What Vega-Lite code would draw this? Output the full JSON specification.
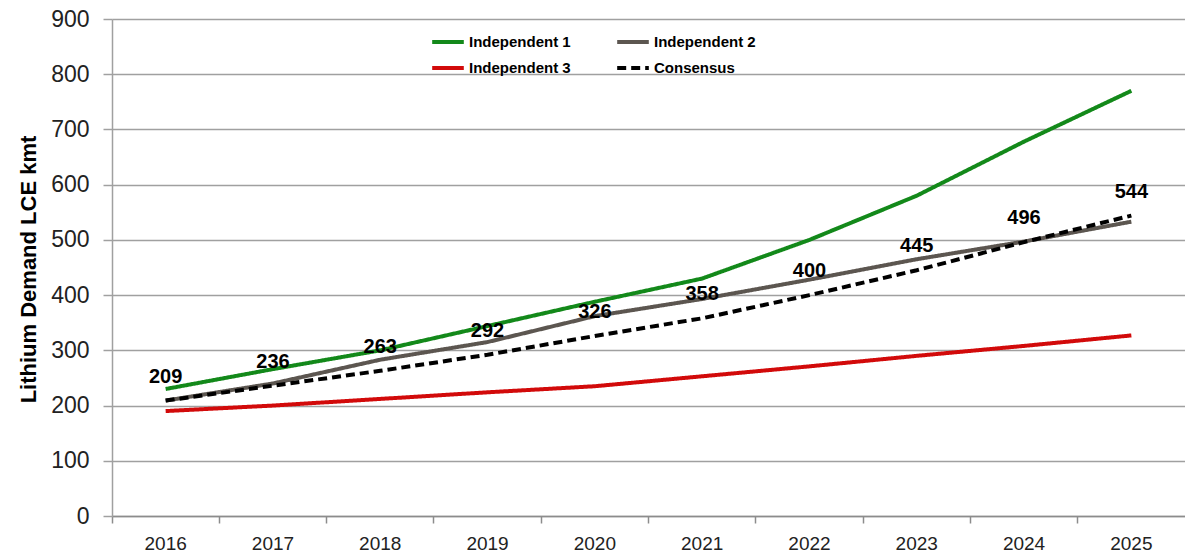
{
  "$schema": "https://vega.github.io/schema/vega-lite/v6.json",
  "width": 1073,
  "height": 497,
  "autosize": {"type": "none"},
  "padding": {"left": 112, "top": 19, "right": 0, "bottom": 40},
  "background": "white",
  "config": {"font": "Liberation Sans, Arial, sans-serif", "view": {"stroke": null}},
  "data": {
    "values": [
      {"year": "2016", "series": "Independent 1", "value": 230},
      {"year": "2017", "series": "Independent 1", "value": 266},
      {"year": "2018", "series": "Independent 1", "value": 300},
      {"year": "2019", "series": "Independent 1", "value": 344},
      {"year": "2020", "series": "Independent 1", "value": 388},
      {"year": "2021", "series": "Independent 1", "value": 430},
      {"year": "2022", "series": "Independent 1", "value": 500},
      {"year": "2023", "series": "Independent 1", "value": 580},
      {"year": "2024", "series": "Independent 1", "value": 678},
      {"year": "2025", "series": "Independent 1", "value": 770},
      {"year": "2016", "series": "Independent 2", "value": 209},
      {"year": "2017", "series": "Independent 2", "value": 240},
      {"year": "2018", "series": "Independent 2", "value": 283},
      {"year": "2019", "series": "Independent 2", "value": 315},
      {"year": "2020", "series": "Independent 2", "value": 362},
      {"year": "2021", "series": "Independent 2", "value": 393},
      {"year": "2022", "series": "Independent 2", "value": 428},
      {"year": "2023", "series": "Independent 2", "value": 465},
      {"year": "2024", "series": "Independent 2", "value": 497},
      {"year": "2025", "series": "Independent 2", "value": 533},
      {"year": "2016", "series": "Independent 3", "value": 190},
      {"year": "2017", "series": "Independent 3", "value": 200},
      {"year": "2018", "series": "Independent 3", "value": 212},
      {"year": "2019", "series": "Independent 3", "value": 224},
      {"year": "2020", "series": "Independent 3", "value": 235},
      {"year": "2021", "series": "Independent 3", "value": 253},
      {"year": "2022", "series": "Independent 3", "value": 271},
      {"year": "2023", "series": "Independent 3", "value": 290},
      {"year": "2024", "series": "Independent 3", "value": 308},
      {"year": "2025", "series": "Independent 3", "value": 327},
      {"year": "2016", "series": "Consensus", "value": 209},
      {"year": "2017", "series": "Consensus", "value": 236},
      {"year": "2018", "series": "Consensus", "value": 263},
      {"year": "2019", "series": "Consensus", "value": 292},
      {"year": "2020", "series": "Consensus", "value": 326},
      {"year": "2021", "series": "Consensus", "value": 358},
      {"year": "2022", "series": "Consensus", "value": 400},
      {"year": "2023", "series": "Consensus", "value": 445},
      {"year": "2024", "series": "Consensus", "value": 496},
      {"year": "2025", "series": "Consensus", "value": 544}
    ]
  },
  "encoding": {
    "x": {
      "field": "year",
      "type": "ordinal",
      "scale": {"type": "band", "paddingInner": 0, "paddingOuter": 0},
      "bandPosition": 0.5,
      "axis": {
        "title": null,
        "bandPosition": 0,
        "labelAngle": 0,
        "labelOverlap": false,
        "tickSize": 7,
        "tickColor": "#8c8c8c",
        "tickWidth": 1.5,
        "domainColor": "#8c8c8c",
        "domainWidth": 1.5,
        "labelFontSize": 19,
        "labelColor": "#222222",
        "labelPadding": 11,
        "grid": false
      }
    },
    "y": {
      "field": "value",
      "type": "quantitative",
      "scale": {"domain": [0, 900], "nice": false},
      "axis": {
        "values": [0, 100, 200, 300, 400, 500, 600, 700, 800, 900],
        "title": "Lithium Demand LCE kmt",
        "titleFontSize": 22,
        "titleFontWeight": "bold",
        "titleColor": "#000000",
        "titleX": -84,
        "titleY": 250,
        "titleAngle": -90,
        "titleAlign": "center",
        "titleBaseline": "middle",
        "gridColor": "#a0a0a0",
        "gridWidth": 1.5,
        "tickColor": "#a0a0a0",
        "tickWidth": 1.5,
        "tickSize": 9,
        "domainColor": "#a0a0a0",
        "domainWidth": 1.5,
        "labelFontSize": 23,
        "labelColor": "#222222",
        "labelPadding": 14
      }
    }
  },
  "layer": [
    {
      "mark": {"type": "line", "strokeWidth": 4},
      "encoding": {
        "color": {
          "field": "series",
          "type": "nominal",
          "scale": {
            "domain": ["Independent 1", "Independent 2", "Independent 3", "Consensus"],
            "range": ["#13891a", "#5c5650", "#d20a0a", "#000000"]
          },
          "legend": {
            "orient": "none",
            "legendX": 318,
            "legendY": 5,
            "columns": 2,
            "direction": "horizontal",
            "title": null,
            "symbolType": "stroke",
            "symbolStrokeWidth": 4,
            "symbolSize": 1000,
            "labelFontSize": 15,
            "labelFontWeight": "bold",
            "labelColor": "#000000",
            "columnPadding": 38,
            "rowPadding": -12,
            "labelOffset": 3
          }
        },
        "strokeDash": {
          "field": "series",
          "type": "nominal",
          "scale": {
            "domain": ["Independent 1", "Independent 2", "Independent 3", "Consensus"],
            "range": [[1, 0], [1, 0], [1, 0], [9, 5]]
          },
          "legend": {
            "orient": "none",
            "legendX": 318,
            "legendY": 5,
            "columns": 2,
            "direction": "horizontal",
            "title": null,
            "symbolType": "stroke",
            "symbolStrokeWidth": 4,
            "symbolSize": 1000,
            "labelFontSize": 15,
            "labelFontWeight": "bold",
            "labelColor": "#000000",
            "columnPadding": 38,
            "rowPadding": -12,
            "labelOffset": 3
          }
        }
      }
    },
    {
      "transform": [{"filter": "datum.series === 'Consensus'"}],
      "mark": {"type": "text", "fontWeight": "bold", "fontSize": 20, "dy": -24, "color": "#000000"},
      "encoding": {
        "text": {"field": "value", "type": "quantitative"}
      }
    }
  ]
}
